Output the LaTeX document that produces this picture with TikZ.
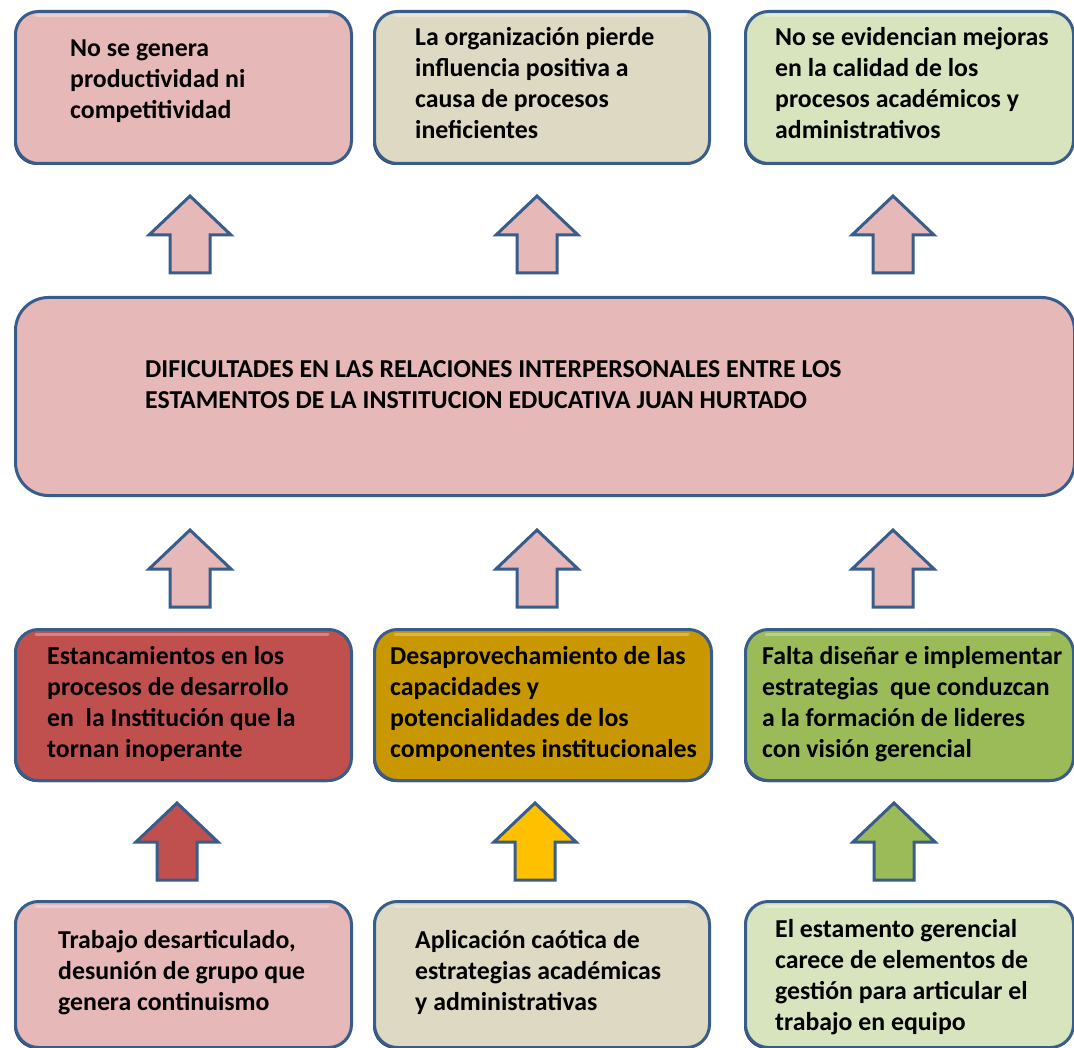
\documentclass[tikz,border=0pt]{standalone}
\usepackage{fontspec}
\setmainfont{Carlito}
\definecolor{bordc}{HTML}{385D8A}
\definecolor{shadc}{HTML}{1F3550}
\definecolor{pinkc}{HTML}{E6B9B8}
\definecolor{beigec}{HTML}{DDD9C3}
\definecolor{lgreenc}{HTML}{D7E4BD}
\definecolor{redc}{HTML}{C0504D}
\definecolor{goldc}{HTML}{C99700}
\definecolor{greenc}{HTML}{9BBB59}
\definecolor{yellowc}{HTML}{FFC000}
\tikzset{
  boxc/.style={draw=bordc, line width=3pt, rounded corners=23pt, inner sep=0pt, anchor=north west},
  bigbox/.style={draw=bordc, line width=3pt, rounded corners=33pt, inner sep=0pt, anchor=north west},
  txt/.style={inner sep=0pt, anchor=base west, font=\fontsize{25.8}{31}\selectfont\bfseries},
  blockarr/.style={draw=bordc, line width=3pt, line join=miter},
}
% up block arrow: #1 centre x, #2 tip y, #3 fill colour
\newcommand\blockup[3]{%
  \draw[blockarr, fill=#3] (#1,#2) -- ++(41,39) -- ++(-21,0) -- ++(0,38) -- ++(-40,0) -- ++(0,-38) -- ++(-21,0) -- cycle;}
\newcommand\boxshadow[4]{%
  \fill[shadc, rounded corners=23pt] (#1,#2+3) rectangle (#3,#4+3);}
\newcommand\gloss[3]{%
  \draw[white, opacity=0.3, line width=3pt, line cap=round] (#1+22,#3+6) -- (#2-22,#3+6);}
\newcommand\tl[1]{\begin{tabular}[t]{@{}l@{}}#1\end{tabular}}
\begin{document}
\begin{tikzpicture}[x=1pt,y=-1pt]
\useasboundingbox (0,0) rectangle (1074,1048);
\fill[white] (0,0) rectangle (1074,1048);

% shadows
\boxshadow{14}{10}{350}{162}
\boxshadow{373}{10}{708}{162}
\boxshadow{744}{10}{1072}{162}
\boxshadow{14}{628}{350}{779}
\boxshadow{373}{628}{710}{779}
\boxshadow{744}{628}{1072}{779}
\boxshadow{14}{900}{350}{1046}
\boxshadow{373}{900}{708}{1046}
\boxshadow{744}{900}{1072}{1046}

% top row (effects)
\node[boxc, fill=pinkc, minimum width=336pt, minimum height=152pt] (e1) at (14,10) {};
\node[boxc, fill=beigec, minimum width=335pt, minimum height=152pt] (e2) at (373,10) {};
\node[boxc, fill=lgreenc, minimum width=328pt, minimum height=152pt] (e3) at (744,10) {};
% central problem
\node[bigbox, fill=pinkc, minimum width=1059pt, minimum height=198pt] (p) at (14,296) {};
% causes
\node[boxc, fill=redc, minimum width=336pt, minimum height=151pt] (c1) at (14,628) {};
\node[boxc, fill=goldc, minimum width=337pt, minimum height=151pt] (c2) at (373,628) {};
\node[boxc, fill=greenc, minimum width=328pt, minimum height=151pt] (c3) at (744,628) {};
% root causes
\node[boxc, fill=pinkc, minimum width=336pt, minimum height=146pt] (r1) at (14,900) {};
\node[boxc, fill=beigec, minimum width=335pt, minimum height=146pt] (r2) at (373,900) {};
\node[boxc, fill=lgreenc, minimum width=328pt, minimum height=146pt] (r3) at (744,900) {};

% gloss
\gloss{14}{350}{10}
\gloss{373}{708}{10}
\gloss{744}{1072}{10}
\gloss{14}{350}{628}
\gloss{373}{710}{628}
\gloss{744}{1072}{628}
\gloss{14}{350}{900}
\gloss{373}{708}{900}
\gloss{744}{1072}{900}

% texts
\node[txt] (te1) at (70,57) {\tl{No se genera\\productividad ni\\competitividad}};
\node[txt] (te2) at (415,46) {\tl{La organización pierde\\influencia positiva a\\causa de procesos\\ineficientes}};
\node[txt] (te3) at (775,46) {\tl{No se evidencian mejoras\\en la calidad de los\\procesos académicos y\\administrativos}};
\node[txt] (tp) at (145,378) {\tl{DIFICULTADES EN LAS RELACIONES INTERPERSONALES ENTRE LOS\\ESTAMENTOS DE LA INSTITUCION EDUCATIVA JUAN HURTADO}};
\node[txt] (tc1) at (47,664) {\tl{Estancamientos en los\\procesos de desarrollo\\en \ la Institución que la\\tornan inoperante}};
\node[txt] (tc2) at (390,664) {\tl{Desaprovechamiento de las\\capacidades y\\potencialidades de los\\componentes institucionales}};
\node[txt] (tc3) at (762,664) {\tl{Falta diseñar e implementar\\estrategias \ que conduzcan\\a la formación de lideres\\con visión gerencial}};
\node[txt] (tr1) at (58,948) {\tl{Trabajo desarticulado,\\desunión de grupo que\\genera continuismo}};
\node[txt] (tr2) at (415,948) {\tl{Aplicación caótica de\\estrategias académicas\\y administrativas}};
\node[txt] (tr3) at (775,937) {\tl{El estamento gerencial\\carece de elementos de\\gestión para articular el\\trabajo en equipo}};

% block arrows
\blockup{190}{196}{pinkc}
\blockup{537}{196}{pinkc}
\blockup{893}{196}{pinkc}
\blockup{190}{530}{pinkc}
\blockup{537}{530}{pinkc}
\blockup{893}{530}{pinkc}
\blockup{177}{803}{redc}
\blockup{535}{803}{yellowc}
\blockup{894}{803}{greenc}
\end{tikzpicture}
\end{document}
